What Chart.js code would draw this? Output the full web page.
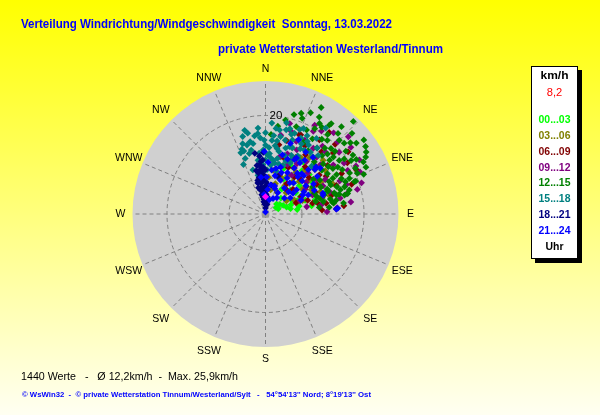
<!DOCTYPE html>
<html><head><meta charset="utf-8">
<script src="https://cdn.jsdelivr.net/npm/chart.js@4/dist/chart.umd.min.js"></script>
<style>html,body{margin:0;padding:0;background:#fff;}canvas{display:block;}</style>
</head><body>
<canvas id="c" width="600" height="415"></canvas>
<script>
// ---- text ----
const title1 = 'Verteilung Windrichtung/Windgeschwindigkeit  Sonntag, 13.03.2022';
const title2 = 'private Wetterstation Westerland/Tinnum';
const footer1 = '1440 Werte   -   Ø 12,2km/h  -  Max. 25,9km/h';
const footer2 = '© WsWin32  -  © private Wetterstation Tinnum/Westerland/Sylt   -   54°54\'13\'\' Nord; 8°19\'13\'\' Ost';
const directions = ['N','NNE','NE','ENE','E','ESE','SE','SSE','S','SSW','SW','WSW','W','WNW','NW','NNW'];
const legendTitle = 'km/h';
const currentValue = '8,2';
const legendFoot = 'Uhr';
const hourLabels = ['00...03','03...06','06...09','09...12','12...15','15...18','18...21','21...24'];
const hourColors = ['#00FF00','#808000','#800000','#800080','#008000','#008080','#000080','#0000FF'];
// ---- radial scale (km/h) ----
const speedMax = 27;
const ringValues = [7.4, 20];
const ringLabel = '20';

// ---- data: [direction in degrees, speed km/h] ----
const h0003 = [[48,3.0],[56,3.5],[64,4.0],[72,4.5],[78,5.2],[70,5.5],[62,6.0],[54,5.0],[44,4.5],[38,6.5],[46,7.0],[55,7.5],[63,8.0],[71,8.5],[77,7.0],[80,9.5],[74,10.5],[66,10.0],[58,9.5],[50,9.0],[42,8.5],[35,9.5],[30,11.0],[40,11.5],[48,12.0],[56,11.5],[64,12.5],[70,13.0],[60,14.0],[52,14.5],[44,13.5],[36,13.0],[26,12.5],[22,10.0],[28,8.0],[33,6.0],[59,2.5],[68,2.8],[82,6.5],[76,12.0],[53,10.5],[45,10.0],[67,7.0],[61,11.0],[39,10.2]];
const h0306 = [[8,3.0],[12,5.0],[18,6.5],[24,8.0],[30,9.0],[36,10.5],[42,12.0],[48,13.5],[54,15.0],[20,10.5],[26,12.0],[32,13.5],[38,14.5],[44,6.0],[50,7.5],[56,9.0],[62,10.5],[68,12.0],[74,13.5],[58,5.0],[64,6.5],[70,8.0],[46,9.5],[52,11.0],[34,7.0],[40,8.5],[28,5.0],[15,12.0],[10,9.0],[60,13.0],[66,15.0],[3,5.5],[5,7.5],[22,14.5],[47,16.0]];
const h0609 = [[23,17.5],[11,14.3],[36,18.6],[38,21.0],[58,19.6],[77,9.8],[64,8.0],[78,10.8],[72,9.0],[70,6.6],[24,17.6],[30,16.0],[42,17.0],[48,18.5],[52,16.0],[62,17.5],[68,15.5],[74,14.0],[80,12.5],[84,16.0],[28,13.0],[34,14.5],[40,12.5],[46,14.0],[54,13.5],[60,12.0],[66,11.0],[56,10.0],[50,11.5],[44,10.0],[38,9.5],[32,11.0],[26,10.5],[18,12.0],[16,15.5],[45,20.0],[53,21.0],[64,20.5],[71,18.5],[35,7.5],[42,6.5],[58,14.5],[20,8.5],[48,7.5],[86,11.5]];
const h0912 = [[11,16.3],[17,17.6],[30,19.4],[57,19.0],[62,20.8],[86,14.4],[81,11.4],[68,10.3],[71,13.8],[34,20.3],[45,20.7],[62,18.9],[75,19.3],[85,14.6],[29,20.6],[23,16.0],[40,18.0],[50,19.5],[54,17.0],[66,16.5],[70,17.5],[78,15.5],[82,17.5],[74,12.0],[60,14.0],[64,13.0],[56,12.5],[48,15.0],[42,15.5],[36,16.5],[26,14.5],[20,13.0],[32,12.0],[38,13.5],[46,12.0],[52,10.5],[58,9.5],[44,17.5],[52,22.0],[47,23.0],[40,21.5],[66,21.0],[72,20.5],[60,22.0],[28,17.0],[14,12.0],[24,11.0],[34,9.5],[76,17.0],[88,12.5],[80,8.5],[69,7.5],[15,19.0]];
const h1215 = [[43.5,25.9],[27.6,24.4],[19.5,21.7],[52,23.4],[58.4,24.0],[60.4,23.4],[66,20.4],[76,17.2],[80,13.8],[35.7,22.2],[30.8,21.4],[45,21.2],[52,20.7],[56,21.4],[70,19.2],[75,14.9],[45,18.8],[4,16.2],[19.4,18.8],[21,20.8],[16,21.0],[36,22.7],[70,19.5],[74,17.7],[76.5,16.5],[79,14.6],[73,14.6],[67,10.8],[40,19.5],[48,19.0],[54,18.5],[60,18.0],[64,19.0],[68,17.5],[72,16.0],[62,15.5],[56,16.5],[50,17.0],[44,16.5],[38,17.0],[32,18.0],[26,19.0],[30,20.0],[42,22.0],[48,21.5],[58,20.5],[66,14.5],[70,13.5],[78,12.0],[74,11.5],[64,12.5],[58,13.0],[52,14.5],[46,14.0],[40,15.0],[34,15.5],[28,16.5],[54,12.0],[60,11.0],[84,13.0],[82,16.0],[62,22.5],[56,24.5],[50,22.5],[38,20.5],[24,22.5],[68,21.5],[8,18.0],[12,19.5],[42,18.0],[46,17.5],[50,18.0],[55,19.5],[59,21.5],[63,20.5],[67,18.5],[71,17.0],[75,15.5],[77,13.5],[72,12.5],[68,13.5],[63,14.5],[57,15.0],[53,16.0],[49,15.5],[43,14.5],[37,19.0],[33,21.0],[29,22.5],[41,23.5],[47,24.0],[53,25.0],[65,22.5],[61,16.5],[57,17.5],[65,17.0],[69,15.5],[81,14.0],[83,11.0],[76,10.5],[71,11.0]];
const h1518 = [[347.6,16.8],[343.6,16.4],[354.5,16.4],[338,13.4],[344,9.3],[345,12.7],[347.4,13.3],[354,12.4],[9.5,17.3],[13.8,17.6],[19.6,14.5],[3.8,12.3],[357,10.0],[8,11.0],[19.8,17.4],[31.4,15.2],[39.5,15.1],[35,21.3],[340,12.0],[350,14.5],[352,11.0],[342,15.0],[0,14.0],[5,15.0],[10,13.5],[15,15.5],[20,16.0],[25,17.0],[28,15.0],[24,13.0],[18,12.5],[12,11.5],[6,10.0],[2,12.0],[358,13.0],[356,15.5],[0,16.5],[7,17.5],[16,18.0],[22,18.5],[30,17.0],[34,18.5],[38,17.0],[42,16.0],[26,11.5],[32,13.0],[14,9.0],[20,10.5],[356,8.5],[2,9.0],[11,16.0],[4,18.5],[44,13.5],[352,16.0],[348,15.0],[345,14.5],[341,13.5],[336,11.0],[349,8.0],[354,10.0],[0,11.0],[3,13.5],[6,16.0],[9,15.0],[12,13.0],[17,14.0],[22,14.5],[27,16.0],[32,16.5],[36,15.5],[29,13.5],[25,12.0],[21,11.5],[15,10.5],[10,10.5],[5,11.5],[359,15.0],[355,17.5],[346,17.5],[340,14.0],[18,17.0],[13,19.0],[24,19.0],[28,18.0],[8,14.0]];
const h1821 = [[355,10.7],[355,8.6],[352,6.3],[353.6,4.9],[351,3.5],[0,2.2],[357,9.5],[353,9.0],[350,7.5],[348,5.0],[356,7.0],[358,5.5],[359,3.0],[2,4.0],[4,6.0],[354,11.8],[350,10.0],[346,6.5],[352,2.5],[0,1.2],[3,2.8],[358,12.5],[350,12.5],[357,8.0],[354,7.5],[351,5.5],[349,4.0],[356,2.0],[359,4.5],[1,6.5],[355,9.5],[353,10.0],[350,8.5],[347,7.0],[345,5.5],[357,11.0],[0,9.0],[1,3.5],[3,5.0],[6,3.5],[9,2.0],[354,3.0],[348,9.0],[12,6.0],[18,8.0]];
const h2124 = [[359,12.7],[19.5,15.2],[70,12.4],[85.5,14.7],[68.6,7.8],[0,0.4],[71.7,12.3],[86,14.4],[10,6.0],[14,8.0],[18,10.0],[22,12.0],[34,12.5],[38,10.5],[42,8.5],[46,6.5],[50,5.0],[20,5.5],[24,7.5],[28,9.5],[32,11.0],[36,13.5],[40,15.0],[44,12.5],[48,10.0],[52,8.0],[60,9.0],[58,11.5],[54,13.0],[50,14.5],[16,12.5],[8,9.0],[30,5.0],[36,6.5],[26,3.5],[15,3.0],[5,5.0],[2,7.5],[64,11.0],[66,9.5],[24,16.5],[28,12.5],[42,11.0],[48,13.5],[55,10.0],[38,8.0],[18,6.0],[3,10.5],[353,7.5],[356,4.0],[21,9.0],[29,13.0],[33,15.0],[45,11.0],[53,7.0],[63,8.5],[47,14.0],[31,8.5],[13,9.5],[41,10.0],[35,4.0],[57,6.0]];
const current = [[0,3.5]];

const series = [h0003,h0306,h0609,h0912,h1215,h1518,h1821,h2124];

function toXY(pairs){
  return pairs.map(([d,s]) => ({x: s*Math.sin(d*Math.PI/180), y: s*Math.cos(d*Math.PI/180)}));
}

function fitText(ctx, text, x, y, w, font, color, align){
  ctx.save();
  ctx.font = font; ctx.fillStyle = color;
  ctx.textBaseline = 'middle'; ctx.textAlign = 'left';
  const mw = ctx.measureText(text).width;
  const k = w / mw;
  let x0 = x;
  if (align === 'center') x0 = x - w/2;
  ctx.translate(x0, y); ctx.scale(k, 1);
  ctx.fillText(text, 0, 0);
  ctx.restore();
}

const decor = {
  id: 'decor',
  beforeDraw(chart){
    const ctx = chart.ctx;
    const W = chart.width, H = chart.height;
    const g = ctx.createLinearGradient(0,0,0,H);
    g.addColorStop(0,'#FFFF00');
    g.addColorStop(1,'#FFFFF2');
    ctx.save();
    ctx.fillStyle = g; ctx.fillRect(0,0,W,H);
    ctx.restore();

    fitText(ctx, title1, 21, 25, 371, 'bold 12.5px "Liberation Sans", Arial, sans-serif', '#0000FF');
    fitText(ctx, title2, 218, 50, 225, 'bold 12.5px "Liberation Sans", Arial, sans-serif', '#0000FF');
    fitText(ctx, footer1, 21, 377, 217, '11px "Liberation Sans", Arial, sans-serif', '#000000');
    fitText(ctx, footer2, 22, 394.5, 349, 'bold 8px "Liberation Sans", Arial, sans-serif', '#0000FF');

    // legend box
    ctx.save();
    ctx.fillStyle = '#000'; ctx.fillRect(535, 70, 47, 193);
    ctx.fillStyle = '#FFF'; ctx.fillRect(531, 66, 47, 193);
    ctx.strokeStyle = '#000'; ctx.lineWidth = 1; ctx.strokeRect(531.5, 66.5, 46, 192);
    ctx.restore();
    const lx = 554.5;
    fitText(ctx, legendTitle, lx, 76, 28, 'bold 11px "Liberation Sans", Arial, sans-serif', '#000', 'center');
    fitText(ctx, currentValue, lx, 92.5, 15.5, '11px "Liberation Sans", Arial, sans-serif', '#FF0000', 'center');
    hourLabels.forEach((t,i) => {
      fitText(ctx, t, lx, 119.7 + i*15.93, 32, 'bold 11px "Liberation Sans", Arial, sans-serif', hourColors[i], 'center');
    });
    fitText(ctx, legendFoot, lx, 247, 18, 'bold 11px "Liberation Sans", Arial, sans-serif', '#000', 'center');
  },
  beforeDatasetsDraw(chart){
    const ctx = chart.ctx;
    const sx = chart.scales.x, sy = chart.scales.y;
    const cx = sx.getPixelForValue(0), cy = sy.getPixelForValue(0);
    const R = sx.getPixelForValue(speedMax) - cx;
    const rp = v => sx.getPixelForValue(v) - cx;
    ctx.save();
    ctx.fillStyle = '#D0D0D0';
    ctx.beginPath(); ctx.arc(cx, cy, R, 0, Math.PI*2); ctx.fill();
    ctx.strokeStyle = '#808080'; ctx.lineWidth = 1; ctx.setLineDash([4,3]);
    ringValues.forEach(v => { ctx.beginPath(); ctx.arc(cx, cy, rp(v), 0, Math.PI*2); ctx.stroke(); });
    directions.forEach((d,i) => {
      const a = i*22.5*Math.PI/180;
      ctx.beginPath();
      ctx.moveTo(cx, cy);
      ctx.lineTo(cx + R*Math.sin(a), cy - R*Math.cos(a));
      ctx.stroke();
    });
    ctx.setLineDash([]);
    ctx.fillStyle = '#9A9A9A';
    ctx.fillRect(cx-3.5, cy-3.5, 7, 7);
    // direction labels
    ctx.fillStyle = '#000'; ctx.font = '10.5px "Liberation Sans", Arial, sans-serif';
    ctx.textAlign = 'center'; ctx.textBaseline = 'middle';
    directions.forEach((d,i) => {
      const a = i*22.5*Math.PI/180;
      const r = (i % 4 === 0) ? R*1.09 : R*1.113;
      ctx.fillText(d, cx + r*Math.sin(a), cy - r*Math.cos(a) + 0.5);
    });
    ctx.font = '11.5px "Liberation Sans", Arial, sans-serif';
    ctx.fillText(ringLabel, cx + 10.5, cy - rp(20) + 0.5);
    ctx.restore();
  }
};

// later hours are drawn on top (lower "order" = drawn later)
const datasets = series.map((s,i) => ({
  label: hourLabels[i], data: toXY(s), backgroundColor: hourColors[i], order: 20 - i,
  pointStyle: 'rectRot', pointRadius: 3.4, borderWidth: 0, pointBorderWidth: 0, clip: false
}));
datasets.push({label:'aktuell', data: toXY(current), backgroundColor:'#FF00FF', order: 0, pointStyle:'rectRot', pointRadius:3.6, pointBorderWidth:0, clip:false});

new Chart(document.getElementById('c'), {
  type: 'scatter',
  data: { datasets },
  options: {
    responsive: false, animation: false, devicePixelRatio: 1,
    layout: { padding: { left: 132.5, right: 201.5, top: 81, bottom: 68 } },
    plugins: { legend: { display: false }, tooltip: { enabled: false }, title: { display: false } },
    scales: {
      x: { display: false, min: -speedMax, max: speedMax },
      y: { display: false, min: -speedMax, max: speedMax }
    }
  },
  plugins: [decor]
});
</script>
</body></html>
